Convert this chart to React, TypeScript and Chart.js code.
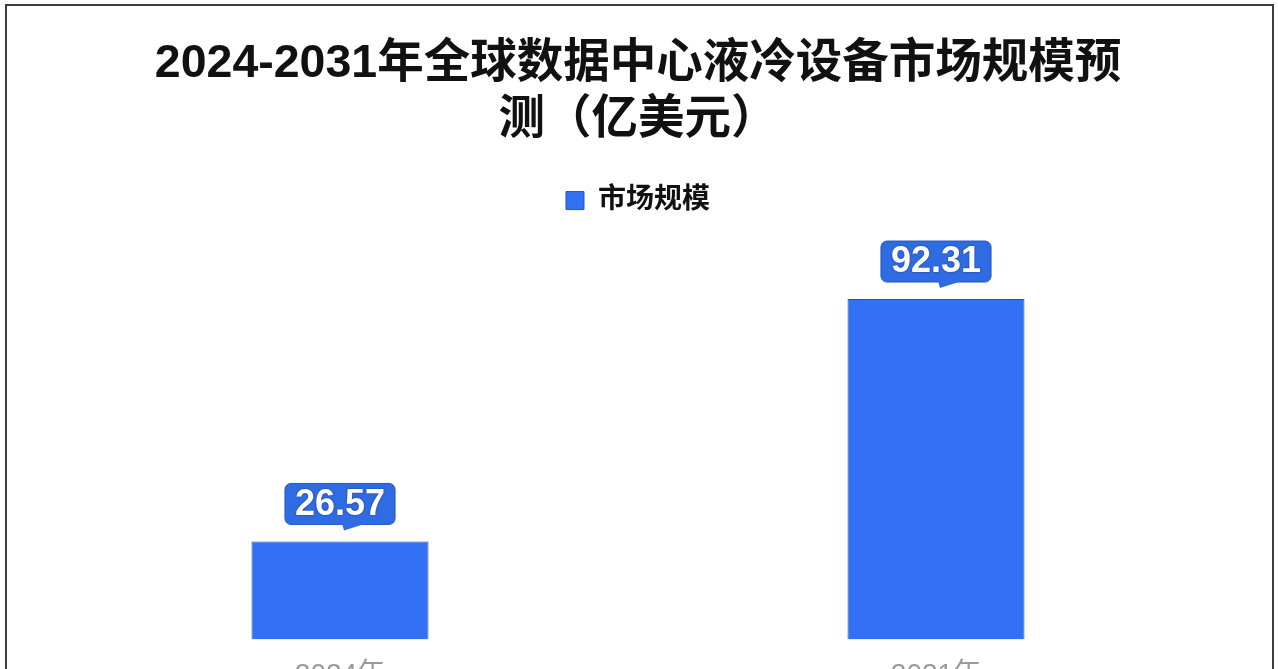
import { useEffect, useRef } from "react"
import { Chart, registerables } from "chart.js"

Chart.register(...registerables)

const categories = ["2024年", "2031年"]
const marketSize = [26.57, 92.31]
const seriesLabel = "市场规模"
const titleLines = ["2024-2031年全球数据中心液冷设备市场规模预", "测（亿美元）"]

const FONT = "'Liberation Sans', Arial, 'Noto Sans CJK SC', sans-serif"

// speech-bubble value labels above each bar
const calloutPlugin = {
  id: "callout",
  afterDatasetsDraw(chart: any) {
    const ctx = chart.ctx
    const meta = chart.getDatasetMeta(0)
    meta.data.forEach((bar: any, i: number) => {
      const text = marketSize[i].toFixed(2)
      ctx.save()
      ctx.font = `bold 36px ${FONT}`
      const w = ctx.measureText(text).width + 20
      const h = 41
      const bottom = bar.y - 17
      const left = bar.x - w / 2
      const top = bottom - h
      ctx.fillStyle = "#2f6be2"
      ctx.strokeStyle = "#2457c4"
      ctx.lineWidth = 1
      ctx.beginPath()
      ctx.roundRect(left, top, w, h, 6)
      ctx.fill()
      ctx.stroke()
      ctx.beginPath()
      ctx.moveTo(bar.x + 2, bottom - 1)
      ctx.lineTo(bar.x + 26, bottom - 1)
      ctx.lineTo(bar.x + 4, bottom + 6)
      ctx.closePath()
      ctx.fill()
      ctx.fillStyle = "#ffffff"
      ctx.shadowColor = "rgba(0,0,40,0.5)"
      ctx.shadowBlur = 2
      ctx.textAlign = "center"
      ctx.textBaseline = "middle"
      ctx.fillText(text, bar.x, top + h / 2 + 1)
      ctx.restore()
    })
  },
}

export default function App() {
  const chartRef = useRef<HTMLCanvasElement>(null)
  const chartInstance = useRef<Chart | null>(null)

  useEffect(() => {
    if (!chartRef.current) return
    if (chartInstance.current) chartInstance.current.destroy()

    const ctx = chartRef.current.getContext("2d")
    if (ctx) {
      chartInstance.current = new Chart(ctx, {
        type: "bar",
        data: {
          labels: categories,
          datasets: [
            {
              label: seriesLabel,
              data: marketSize,
              backgroundColor: "#3271f3",
              borderColor: "#2653c4",
              borderWidth: 1,
              categoryPercentage: 0.33,
              barPercentage: 0.9,
            },
          ],
        },
        options: {
          responsive: true,
          maintainAspectRatio: false,
          animation: false,
          layout: { padding: { left: 42, right: 44, top: 0, bottom: 9 } },
          scales: {
            y: { display: false, min: 0, max: 112.5 },
            x: {
              grid: { display: false },
              border: { display: false },
              ticks: { color: "#9a9a9a", font: { size: 28, family: FONT }, padding: 11 },
            },
          },
          plugins: {
            title: {
              display: true,
              text: titleLines,
              color: "#111111",
              font: { size: 46.5, weight: "bold", family: FONT, lineHeight: 1.2 },
              padding: { top: 36, bottom: 29 },
            },
            legend: {
              labels: {
                color: "#111111",
                boxWidth: 18,
                boxHeight: 18,
                padding: 10,
                font: { size: 28, weight: "bold", family: FONT },
              },
            },
            tooltip: { enabled: false },
          },
        },
        plugins: [calloutPlugin],
      })
    }

    return () => {
      if (chartInstance.current) {
        chartInstance.current.destroy()
        chartInstance.current = null
      }
    }
  }, [])

  return (
    <div style={{ position: "fixed", left: 0, top: 0, width: 1278, height: 669, overflow: "hidden", background: "#fff" }}>
      <div style={{ position: "absolute", left: 0, top: 0, width: 1278, height: 712 }}>
        <canvas ref={chartRef} />
      </div>
      <div
        style={{
          position: "absolute",
          left: 5,
          top: 4,
          width: 1265,
          height: 740,
          border: "2px solid #3b3b4a",
          pointerEvents: "none",
        }}
      />
    </div>
  )
}
